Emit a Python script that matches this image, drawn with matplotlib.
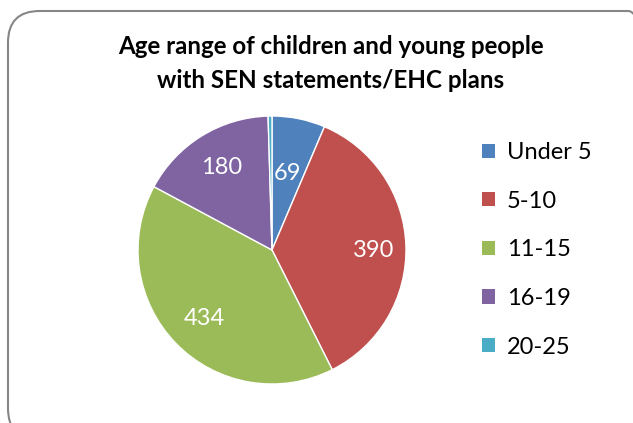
import matplotlib
matplotlib.use("Agg")
import matplotlib.pyplot as plt
from matplotlib.patches import FancyBboxPatch, Patch
import numpy as np

categories = ["Under 5", "5-10", "11-15", "16-19", "20-25"]
values = [69, 390, 434, 180, 5]
labels = ["69", "390", "434", "180", ""]
colors = ["#4F81BD", "#C0504D", "#9BBB59", "#8064A2", "#4BACC6"]
label_r = [0.58, 0.76, 0.72, 0.72, 0.7]
label_dang = [0, -2, 0.8, 0, 0]

W, H = 633, 423
fig = plt.figure(figsize=(W / 100, H / 100), dpi=100)
fig.patch.set_facecolor("white")

# rounded border
box = FancyBboxPatch((8 / W, (H - 440) / H), (660 - 8) / W, (440 - 11) / H,
                     boxstyle="round,pad=0,rounding_size=0.05",
                     transform=fig.transFigure, facecolor="none",
                     edgecolor="#868686", linewidth=1.5, mutation_aspect=W / H,
                     zorder=-1)
fig.patches.append(box)

font = "Lato"
fs = 17
fig.text(331 / W, 1 - 47 / H, "Age range of children and young people",
         ha="center", va="center", fontsize=17.4, fontweight="bold", family=font)
fig.text(331 / W, 1 - 80 / H, "with SEN statements/EHC plans",
         ha="center", va="center", fontsize=17.4, fontweight="bold", family=font)

cx, cy, R = 272, 250, 134
ax = fig.add_axes([(cx - R) / W, (H - cy - R) / H, 2 * R / W, 2 * R / H])
wedges, _ = ax.pie(values, colors=colors, startangle=90, counterclock=False,
                   radius=1, wedgeprops=dict(edgecolor="white", linewidth=1.0))
for w, lab, r, da in zip(wedges, labels, label_r, label_dang):
    if not lab:
        continue
    ang = np.deg2rad((w.theta1 + w.theta2) / 2 + da)
    ax.text(r * np.cos(ang), r * np.sin(ang), lab, ha="center", va="center",
            color="white", fontsize=fs, family=font)
ax.set_xlim(-1, 1)
ax.set_ylim(-1, 1)
ax.set_aspect("auto")
ax.axis("off")

handles = [Patch(facecolor=c, edgecolor="none") for c in colors]
fig.legend(handles, categories, loc="upper left",
           bbox_to_anchor=(482 / W, 1 - 142 / H), frameon=False,
           borderpad=0, borderaxespad=0,
           prop=dict(family=font, size=fs), handlelength=0.55,
           handleheight=0.55, handletextpad=0.5, labelspacing=1.17)

fig.savefig("out.png", dpi=100)
